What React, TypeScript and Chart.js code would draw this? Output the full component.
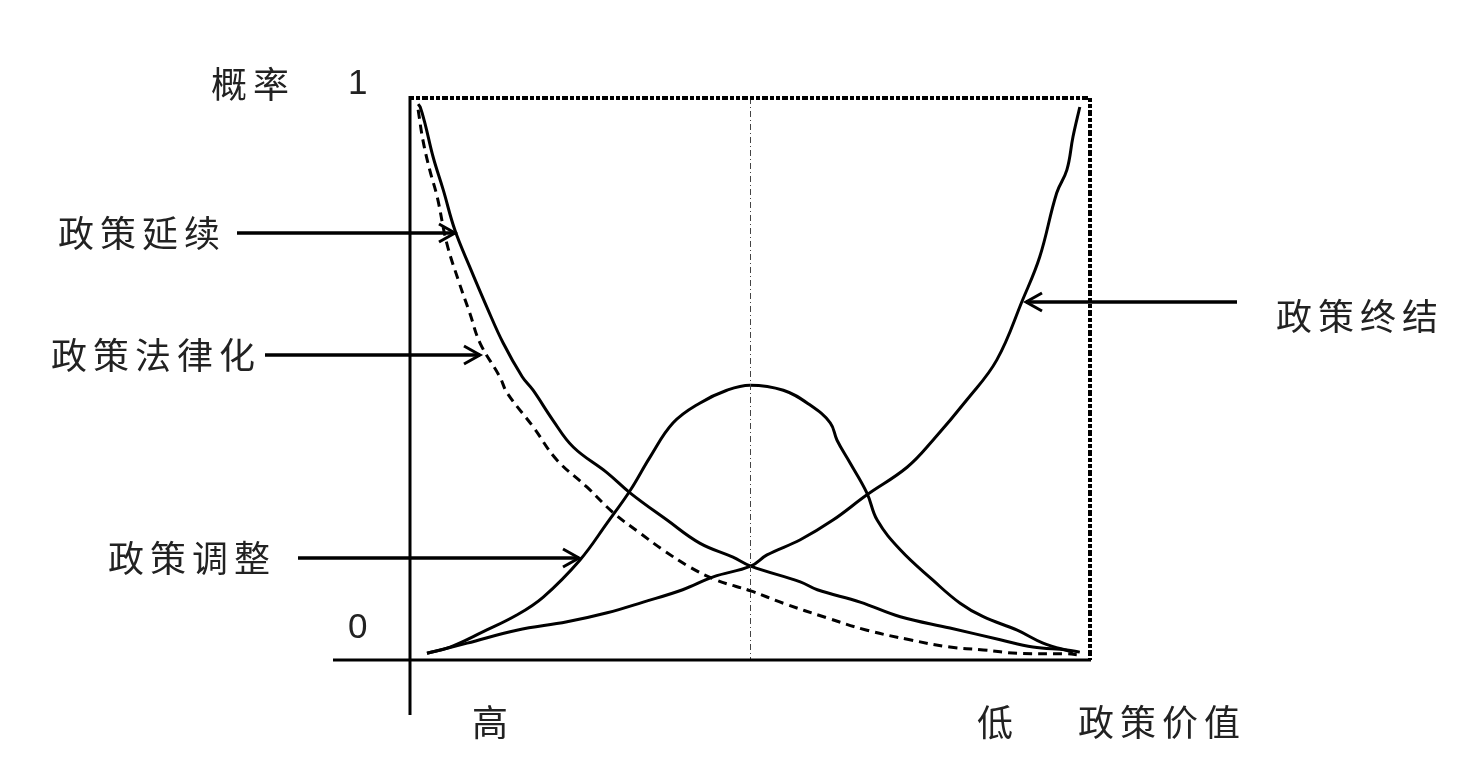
import React, { useEffect, useRef } from "react";
import { Chart, registerables } from "chart.js";

Chart.register(...registerables);

// 政策延续 (solid, falling)
const continuationX = [1.2, 1.5, 2.2, 3.4, 4.9, 6.6, 8.8, 11.3, 13.7, 16.5, 18.1, 21.0, 24.0, 29.0, 32.4, 37.8, 42.6, 47.5, 50.1, 57.4, 59.9, 66.2, 72.1, 79.4, 86.8, 91.6, 96.6, 98.5];
const continuationY = [0.989, 0.984, 0.955, 0.895, 0.836, 0.765, 0.699, 0.628, 0.564, 0.504, 0.48, 0.427, 0.379, 0.333, 0.297, 0.249, 0.208, 0.183, 0.167, 0.139, 0.125, 0.103, 0.077, 0.057, 0.036, 0.023, 0.018, 0.014];

// 政策法律化 (dashed, falling faster)
const legalizationX = [1.2, 1.9, 2.9, 4.0, 5.4, 7.1, 8.8, 10.3, 13.2, 14.3, 18.1, 21.6, 26.0, 29.9, 33.8, 37.2, 41.2, 45.1, 50.1, 54.9, 61.3, 67.2, 73.5, 79.4, 84.3, 89.3, 96.6, 98.5];
const legalizationY = [0.979, 0.925, 0.872, 0.824, 0.742, 0.676, 0.617, 0.564, 0.504, 0.475, 0.415, 0.356, 0.308, 0.262, 0.226, 0.196, 0.165, 0.142, 0.123, 0.101, 0.075, 0.053, 0.036, 0.023, 0.018, 0.012, 0.011, 0.009];

// 政策调整 (bell)
const adjustmentX = [2.5, 5.9, 10.7, 15.7, 19.6, 25.0, 29.0, 32.4, 35.3, 38.7, 42.6, 46.6, 50.0, 54.9, 58.8, 61.8, 62.8, 64.7, 67.2, 68.7, 72.1, 76.9, 80.9, 84.3, 89.3, 93.1, 97.5];
const adjustmentY = [0.012, 0.023, 0.05, 0.08, 0.112, 0.178, 0.244, 0.302, 0.361, 0.422, 0.457, 0.48, 0.489, 0.48, 0.454, 0.422, 0.391, 0.351, 0.297, 0.249, 0.196, 0.142, 0.101, 0.077, 0.053, 0.03, 0.014];

// 政策终结 (rising)
const terminationX = [2.5, 8.4, 15.7, 23.1, 29.0, 34.3, 40.1, 44.6, 50.1, 52.5, 57.4, 62.2, 67.2, 73.1, 76.9, 81.9, 86.3, 90.1, 92.6, 95.1, 96.6, 97.5, 98.5];
const terminationY = [0.012, 0.03, 0.053, 0.068, 0.084, 0.103, 0.125, 0.148, 0.167, 0.187, 0.214, 0.249, 0.294, 0.343, 0.391, 0.463, 0.534, 0.641, 0.717, 0.831, 0.872, 0.931, 0.984];

const yTickLabels = ["0", "1"];
const xEndLabels = ["高", "低"];
const yAxisTitle = "概率";
const xAxisTitle = "政策价值";
const seriesLabels = ["政策延续", "政策法律化", "政策调整", "政策终结"];

const toPoints = (xs: number[], ys: number[]) => xs.map((x, i) => ({ x, y: ys[i] }));

const CJK = '"Noto Sans CJK SC", "Noto Sans", sans-serif';

function arrow(ctx: CanvasRenderingContext2D, x1: number, y: number, x2: number) {
  const dir = x2 > x1 ? 1 : -1;
  ctx.save();
  ctx.strokeStyle = "#000";
  ctx.lineWidth = 3.5;
  ctx.lineCap = "butt";
  ctx.lineJoin = "miter";
  ctx.setLineDash([]);
  ctx.beginPath();
  ctx.moveTo(x1, y);
  ctx.lineTo(x2, y);
  ctx.stroke();
  ctx.lineWidth = 3;
  ctx.beginPath();
  ctx.moveTo(x2 - dir * 16, y - 9);
  ctx.lineTo(x2, y);
  ctx.lineTo(x2 - dir * 16, y + 9);
  ctx.stroke();
  ctx.restore();
}

const framePlugin = {
  id: "frame",
  afterDatasetsDraw(chart: any) {
    const ctx: CanvasRenderingContext2D = chart.ctx;
    const xs = chart.scales.x;
    const ys = chart.scales.y;
    const left = xs.getPixelForValue(0);
    const right = xs.getPixelForValue(100);
    const top = ys.getPixelForValue(1);
    const bottom = ys.getPixelForValue(0);
    const mid = xs.getPixelForValue(50);

    ctx.save();
    // centre dash-dot line
    ctx.strokeStyle = "#444";
    ctx.lineWidth = 1;
    ctx.setLineDash([6, 3, 1, 3]);
    ctx.beginPath();
    ctx.moveTo(mid + 0.5, top);
    ctx.lineTo(mid + 0.5, bottom);
    ctx.stroke();

    // dotted top and right border
    ctx.strokeStyle = "#000";
    ctx.lineWidth = 4;
    ctx.setLineDash([4, 2, 4, 2, 6, 2]);
    ctx.beginPath();
    ctx.moveTo(left, top);
    ctx.lineTo(right, top);
    ctx.lineTo(right, bottom);
    ctx.stroke();

    // axes
    ctx.setLineDash([]);
    ctx.lineWidth = 3;
    ctx.beginPath();
    ctx.moveTo(left, top - 2);
    ctx.lineTo(left, bottom + 55);
    ctx.moveTo(left - 77, bottom);
    ctx.lineTo(right + 1, bottom);
    ctx.stroke();

    // arrows
    arrow(ctx, 237, 233, 455);
    arrow(ctx, 265, 355, 480);
    arrow(ctx, 298, 558, 579);
    arrow(ctx, 1237, 302, 1026);

    // texts
    ctx.fillStyle = "#222";
    ctx.textBaseline = "middle";
    ctx.textAlign = "left";
    ctx.font = `36px ${CJK}`;
    (ctx as any).letterSpacing = "6px";
    ctx.fillText(seriesLabels[0], 58, 233);
    ctx.fillText(seriesLabels[1], 51, 355);
    ctx.fillText(seriesLabels[2], 108, 558);
    ctx.fillText(seriesLabels[3], 1276, 316);
    ctx.fillText(yAxisTitle, 211, 84);
    ctx.fillText(xEndLabels[0], 472, 722);
    ctx.fillText(xEndLabels[1], 977, 722);
    ctx.fillText(xAxisTitle, 1078, 722);

    (ctx as any).letterSpacing = "0px";
    ctx.font = '35px "Liberation Sans", Arial, sans-serif';
    ctx.fillText(yTickLabels[1], 348, 84);
    ctx.fillText(yTickLabels[0], 348, 628);
    ctx.restore();
  },
};

export default function App() {
  const ref = useRef<HTMLCanvasElement | null>(null);
  useEffect(() => {
    if (!ref.current) return;
    const common = {
      borderColor: "#000",
      borderWidth: 3,
      pointRadius: 0,
      tension: 0.4,
      fill: false,
    };
    const chart = new Chart(ref.current, {
      type: "line",
      data: {
        datasets: [
          { ...common, label: seriesLabels[0], data: toPoints(continuationX, continuationY) },
          { ...common, label: seriesLabels[1], data: toPoints(legalizationX, legalizationY), borderDash: [9, 6], borderWidth: 3 },
          { ...common, label: seriesLabels[2], data: toPoints(adjustmentX, adjustmentY) },
          { ...common, label: seriesLabels[3], data: toPoints(terminationX, terminationY) },
        ],
      },
      options: {
        animation: false,
        responsive: true,
        maintainAspectRatio: false,
        layout: { padding: { left: 410, right: 392, top: 98, bottom: 115 } },
        plugins: { legend: { display: false }, tooltip: { enabled: false } },
        scales: {
          x: { type: "linear", min: 0, max: 100, display: false },
          y: { type: "linear", min: 0, max: 1, display: false },
        },
        clip: false as any,
      },
      plugins: [framePlugin],
    });
    return () => chart.destroy();
  }, []);
  return (
    <div style={{ position: "absolute", left: 0, top: 0, width: 1482, height: 775, background: "#fff" }}>
      <canvas ref={ref} />
    </div>
  );
}
